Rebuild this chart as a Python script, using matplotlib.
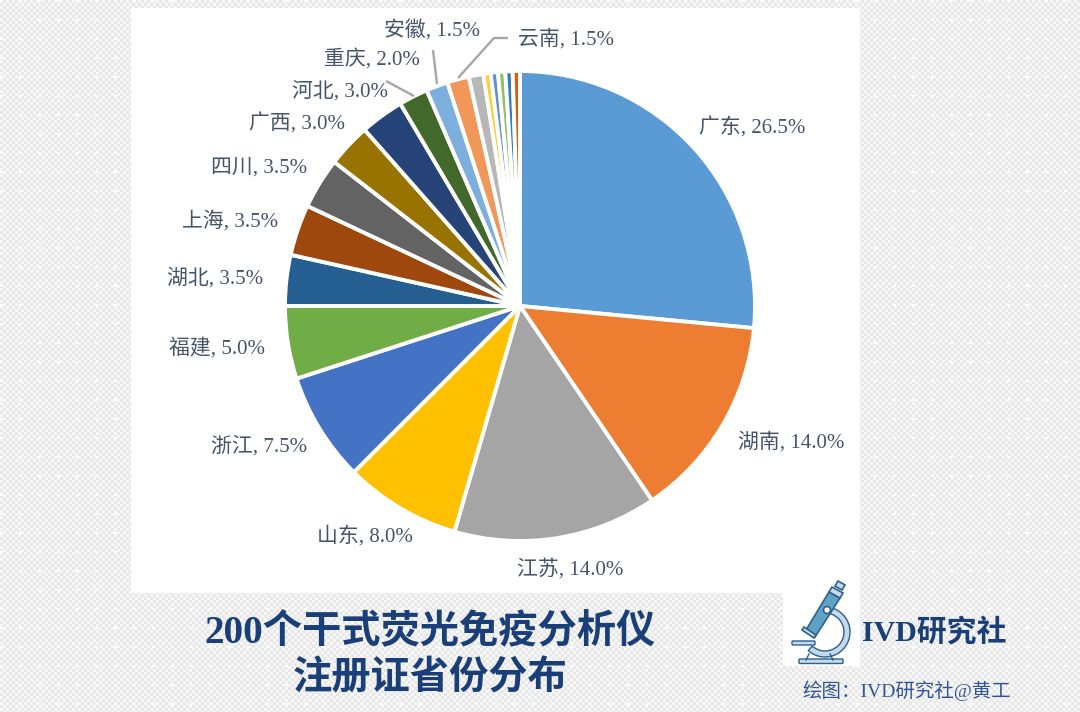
import numpy as np
import matplotlib
matplotlib.use("Agg")
import matplotlib.pyplot as plt
from matplotlib.patches import Rectangle, Circle, Wedge, Polygon, FancyBboxPatch

provinces = ["广东","湖南","江苏","山东","浙江","福建","湖北","上海","四川","广西","河北","重庆","安徽","云南",
             "其他1","其他2","其他3","其他4","其他5","其他6"]
shares = [26.5,14.0,14.0,8.0,7.5,5.0,3.5,3.5,3.5,3.0,3.0,2.0,1.5,1.5,1.0,0.5,0.5,0.5,0.5,0.5]
colors = ["#5B9BD5","#ED7D31","#A5A5A5","#FFC000","#4472C4","#70AD47","#255E91","#9E480E","#636363","#997300",
          "#264478","#43682B","#7CAFDD","#F1975A","#B7B7B7","#FFCD33","#698ED0","#8CC168","#327DC2","#D26012"]
label_px = [(752,128),(791,442),(570,569),(365,536),(259,446),(217,348),(215,278),(230,221),(259,168),(297,124),
            (340,91),(372,60),(432,31),(566,39)]
title_lines = ["200个干式荧光免疫分析仪","注册证省份分布"]
brand = "IVD研究社"
credit = "绘图：IVD研究社@黄工"

W, H = 1080, 712
SERIF = ["Liberation Serif", "Noto Sans CJK SC"]
LAB = "#44546A"
NAVY = "#1A3F78"

fig = plt.figure(figsize=(W/100, H/100), dpi=100)

# dotted backdrop
bg = np.full((H, W), 0.905)
yy, xx = np.mgrid[0:H, 0:W]
bg[((xx//3 + yy//3) % 2) == 0] = 0.965
bg[((xx % 19 < 3) & (yy % 19 < 2))] = 1.0
ax_bg = fig.add_axes([0, 0, 1, 1])
ax_bg.imshow(bg, cmap="gray", vmin=0, vmax=1, extent=(0, W, H, 0), aspect="auto", interpolation="nearest")
ax_bg.set_xlim(0, W); ax_bg.set_ylim(H, 0); ax_bg.axis("off")
ax_bg.add_patch(Rectangle((131, 8), 729, 585, fc="white", ec="none"))
ax_bg.add_patch(Rectangle((783, 590), 77, 76, fc="white", ec="none"))

# pie
cx, cy, R = 520, 306, 235
ax = fig.add_axes([(cx-R)/W, 1-(cy+R)/H, 2*R/W, 2*R/H])
ax.pie(shares, colors=colors, startangle=90, counterclock=False, radius=1.0,
       wedgeprops=dict(edgecolor="white", linewidth=2.8))
ax.set_xlim(-1, 1); ax.set_ylim(-1, 1); ax.set_aspect("equal"); ax.axis("off")
ax.patch.set_alpha(0)

# overlay
ov = fig.add_axes([0, 0, 1, 1]); ov.set_xlim(0, W); ov.set_ylim(H, 0); ov.axis("off"); ov.patch.set_alpha(0)
for name, val, (x, y) in zip(provinces, shares, label_px):
    ov.text(x, y, f"{name}, {val:.1f}%", ha="center", va="center", fontsize=15, color=LAB, family=SERIF)

for pts in ([(386,81),(414,96)], [(433,50),(437,84)], [(458,78),(494,38),(508,38)]):
    ov.plot(*zip(*pts), color="#A6A6A6", lw=1.7, solid_capstyle="butt")

for txt, y in zip(title_lines, (633, 680)):
    ov.text(430, y, txt, ha="center", va="center", fontsize=28.3, fontweight="bold", color=NAVY, family=SERIF)
ov.text(934, 632, brand, ha="center", va="center", fontsize=21.5, fontweight="bold", color=NAVY, family=SERIF)
ov.text(907, 691, credit, ha="center", va="center", fontsize=14, color="#2F5597", family=SERIF)

# microscope logo
D = "#2E5F8E"; M = "#5FA3C4"; L = "#C4DAEA"
ov.add_patch(Wedge((825,632), 25, -100, 132, width=6, fc=L, ec=D, lw=1.0))
ov.add_patch(Polygon([(806,630),(829,592),(840,598),(815,637)], fc=M, ec=D, lw=1.2))
ov.add_patch(Polygon([(829,592),(832,587),(843,593),(840,598)], fc=L, ec=D, lw=1.2))
ov.add_patch(Polygon([(835,586),(838,581),(845,585),(842,590)], fc=L, ec=D, lw=1.2))
ov.add_patch(Polygon([(802,630),(804,627),(816,635),(814,638)], fc=L, ec=D, lw=1.2))
ov.add_patch(Circle((827,610), 3.5, fc="white", ec=D, lw=1.2))
ov.add_patch(FancyBboxPatch((793,642), 21, 2, boxstyle="round,pad=1", fc=L, ec=D, lw=1.0))
ov.plot([809,806],[654,660], color=D, lw=1.0)
ov.plot([830,833],[654,660], color=D, lw=1.0)
ov.add_patch(FancyBboxPatch((800,660), 42, 2.5, boxstyle="round,pad=1", fc=L, ec=D, lw=1.0))

fig.savefig("out.png", dpi=100)
